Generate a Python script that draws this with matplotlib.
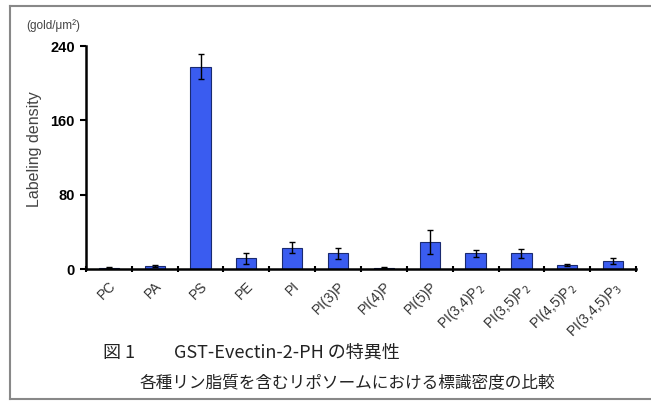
import matplotlib.pyplot as plt
from matplotlib.lines import Line2D

plt.rcParams['font.family'] = ['Liberation Sans', 'Noto Sans CJK JP', 'DejaVu Sans']

# ---------- DATA ----------
lipids = ["PC", "PA", "PS", "PE", "PI", "PI(3)P", "PI(4)P", "PI(5)P",
          "PI(3,4)P$_2$", "PI(3,5)P$_2$", "PI(4,5)P$_2$", "PI(3,4,5)P$_3$"]
density = [1.5, 3, 218, 11.5, 23, 17, 1.5, 29, 17, 17, 4.3, 8.6]
errors = [0.8, 1, 13, 6, 6, 6, 0.8, 13, 4, 5, 1.5, 3]
yticks = [0, 80, 160, 240]

fig = plt.figure(figsize=(6.51, 4.01), dpi=100)
ax = fig.add_axes([0.132, 0.329, 0.845, 0.556])

x = range(len(lipids))
ax.bar(x, density, width=0.44, color="#3a5cf0", edgecolor="#1a2a70", linewidth=0.8,
       yerr=errors, capsize=2.5, error_kw=dict(ecolor="black", elinewidth=1, capthick=1))

ax.set_xlim(-0.5, len(lipids) - 0.5)
ax.set_ylim(0, 240)
ax.set_yticks(yticks)
ax.set_yticklabels([str(t) for t in yticks], fontweight="bold", fontsize=10.5)
ax.set_xticks(list(x))
ax.set_xticklabels(lipids, rotation=45, ha="right", rotation_mode="anchor",
                   fontsize=10, color="#333333")
ax.tick_params(axis="x", length=0, pad=7)
ax.set_xticks([i - 0.5 for i in range(len(lipids) + 1)], minor=True)
ax.tick_params(axis="x", which="minor", length=4, width=1.5, direction="inout")
ax.tick_params(axis="y", length=4, width=1.5, pad=4)

for s in ["top", "right"]:
    ax.spines[s].set_visible(False)
for s in ["left", "bottom"]:
    ax.spines[s].set_linewidth(1.8)

ax.set_ylabel("Labeling density", fontsize=11.5, color="#444444")
ax.yaxis.set_label_coords(-0.08, 0.54)
fig.text(0.041, 0.937, "(gold/\u03bcm\u00b2)", fontsize=8.5, color="#444444", va="center")

cjk = ["Noto Sans CJK JP", "DejaVu Sans"]
fig.text(0.158, 0.12, "図 1", fontsize=13, family=cjk, color="#222222", va="center")
fig.text(0.268, 0.12, "GST-Evectin-2-PH の特異性", fontsize=13,
         family=cjk, color="#222222", va="center")
fig.text(0.215, 0.042, "各種リン脂質を含むリポソームにおける標識密度の比較", fontsize=12,
         family=cjk, color="#222222", va="center")

# frame around the figure (top, left, bottom)
fig.add_artist(Line2D([0.015, 1.0], [0.985, 0.985], color="#888888", lw=1.5))
fig.add_artist(Line2D([0.015, 0.015], [0.005, 0.985], color="#888888", lw=1.5))
fig.add_artist(Line2D([0.015, 1.0], [0.005, 0.005], color="#888888", lw=1.5))

fig.savefig("out.png", dpi=100)
